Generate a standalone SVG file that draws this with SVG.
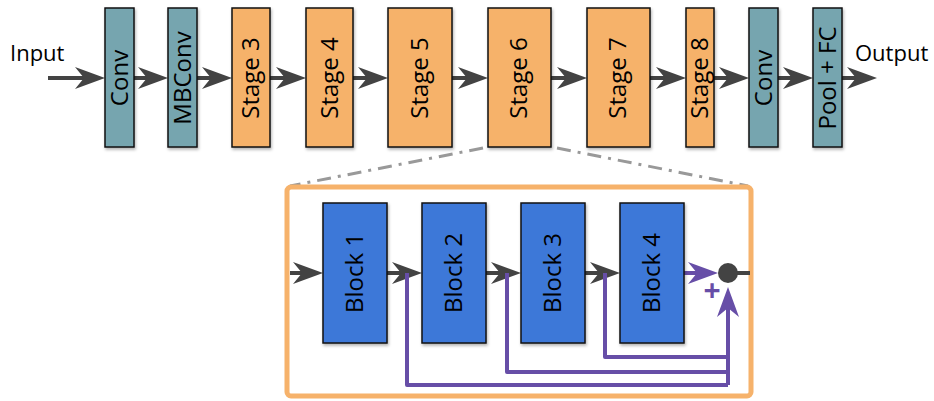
<svg xmlns="http://www.w3.org/2000/svg" width="934" height="401" viewBox="0 0 934 401">
<style>
.box{stroke:#111;stroke-width:1.5;filter:url(#sh)}
.teal{fill:#76A5AF}
.org{fill:#F6B26B}
.blue{fill:#3C78D8}
.lbl{font-family:"Open Sans",sans-serif;font-size:24px;fill:#000;text-anchor:middle}
.io{font-family:"Open Sans",sans-serif;font-size:22px;fill:#000}
.ar{stroke:#434343;stroke-width:4;fill:none;marker-end:url(#ah)}
.pl{stroke:#674EA7;stroke-width:4;fill:none;stroke-linejoin:round}
</style>
<defs>
<filter id="sh" x="-20%" y="-20%" width="140%" height="140%">
<feDropShadow dx="1" dy="2" stdDeviation="1.5" flood-color="#000" flood-opacity="0.3"/>
</filter>
<marker id="ah" viewBox="0 0 30 22" refX="22" refY="11" markerWidth="30" markerHeight="22" markerUnits="userSpaceOnUse" orient="auto">
<path d="M0,0 L30,11 L0,22 L9,11 Z" fill="#434343"/>
</marker>
<marker id="ahp" viewBox="0 0 30 22" refX="22" refY="11" markerWidth="30" markerHeight="22" markerUnits="userSpaceOnUse" orient="auto">
<path d="M0,0 L30,11 L0,22 L9,11 Z" fill="#674EA7"/>
</marker>
</defs>
<rect width="934" height="401" fill="#fff"/>

<g id="connectors">
<line class="ar" x1="48" y1="78" x2="97" y2="78"/>
<line class="ar" x1="134" y1="78" x2="160" y2="78"/>
<line class="ar" x1="197" y1="78" x2="224" y2="78"/>
<line class="ar" x1="270" y1="78" x2="298" y2="78"/>
<line class="ar" x1="353" y1="78" x2="380" y2="78"/>
<line class="ar" x1="452" y1="78" x2="480" y2="78"/>
<line class="ar" x1="551" y1="78" x2="579" y2="78"/>
<line class="ar" x1="650" y1="78" x2="678" y2="78"/>
<line class="ar" x1="714" y1="78" x2="741" y2="78"/>
<line class="ar" x1="778" y1="78" x2="805" y2="78"/>
<line class="ar" x1="842" y1="78" x2="869" y2="78"/>
<line x1="483" y1="148" x2="290" y2="186" stroke="#999" stroke-width="3" stroke-dasharray="14,7,3,7"/>
<line x1="557" y1="148" x2="748" y2="186" stroke="#999" stroke-width="3" stroke-dasharray="14,7,3,7"/>
</g>

<rect id="frame" x="287" y="187" width="464" height="209" rx="4" fill="none" stroke="#F6B26B" stroke-width="5"/>

<g id="connectors-inner">
<line class="ar" x1="290" y1="273" x2="315" y2="273"/>
<line class="ar" x1="387" y1="273" x2="414" y2="273"/>
<line class="ar" x1="486" y1="273" x2="513" y2="273"/>
<line class="ar" x1="585" y1="273" x2="612" y2="273"/>
<line x1="728" y1="273" x2="750" y2="273" stroke="#434343" stroke-width="4"/>
<path class="pl" d="M407,273 V385 H728"/>
<path class="pl" d="M507,273 V372 H728"/>
<path class="pl" d="M605,273 V357 H728"/>
<path class="pl" d="M728,385 V295" marker-end="url(#ahp)"/>
<line class="pl" x1="684" y1="273" x2="710" y2="273" marker-end="url(#ahp)"/>
<text x="712" y="301" font-family="Open Sans,sans-serif" font-size="30" font-weight="bold" fill="#674EA7" text-anchor="middle">+</text>
</g>
<circle id="sum" cx="728" cy="273" r="10" fill="#434343"/>

<text class="io" x="10" y="61">Input</text>
<text class="io" x="855" y="61">Output</text>

<g id="conv1"><rect class="box teal" x="105" y="8" width="29" height="139"/><text class="lbl" transform="translate(128,78) rotate(-90)">Conv</text></g>
<g id="mbconv"><rect class="box teal" x="168" y="8" width="29" height="139"/><text class="lbl" transform="translate(191,78) rotate(-90)">MBConv</text></g>
<g id="stage3"><rect class="box org" x="232" y="8" width="38" height="139"/><text class="lbl" transform="translate(259,78) rotate(-90)">Stage 3</text></g>
<g id="stage4"><rect class="box org" x="306" y="8" width="47" height="139"/><text class="lbl" transform="translate(338,78) rotate(-90)">Stage 4</text></g>
<g id="stage5"><rect class="box org" x="388" y="8" width="64" height="139"/><text class="lbl" transform="translate(428,78) rotate(-90)">Stage 5</text></g>
<g id="stage6"><rect class="box org" x="488" y="8" width="63" height="139"/><text class="lbl" transform="translate(527,78) rotate(-90)">Stage 6</text></g>
<g id="stage7"><rect class="box org" x="587" y="8" width="63" height="139"/><text class="lbl" transform="translate(626,78) rotate(-90)">Stage 7</text></g>
<g id="stage8"><rect class="box org" x="686" y="8" width="28" height="139"/><text class="lbl" transform="translate(708,78) rotate(-90)">Stage 8</text></g>
<g id="conv2"><rect class="box teal" x="749" y="8" width="29" height="139"/><text class="lbl" transform="translate(772,78) rotate(-90)">Conv</text></g>
<g id="poolfc"><rect class="box teal" x="813" y="8" width="29" height="139"/><text class="lbl" transform="translate(836,78) rotate(-90)">Pool + FC</text></g>

<g id="block1"><rect class="box blue" x="323" y="203" width="64" height="140"/><text class="lbl" transform="translate(363,273) rotate(-90)">Block 1</text></g>
<g id="block2"><rect class="box blue" x="422" y="203" width="64" height="140"/><text class="lbl" transform="translate(462,273) rotate(-90)">Block 2</text></g>
<g id="block3"><rect class="box blue" x="521" y="203" width="64" height="140"/><text class="lbl" transform="translate(561,273) rotate(-90)">Block 3</text></g>
<g id="block4"><rect class="box blue" x="620" y="203" width="64" height="140"/><text class="lbl" transform="translate(660,273) rotate(-90)">Block 4</text></g>
</svg>
